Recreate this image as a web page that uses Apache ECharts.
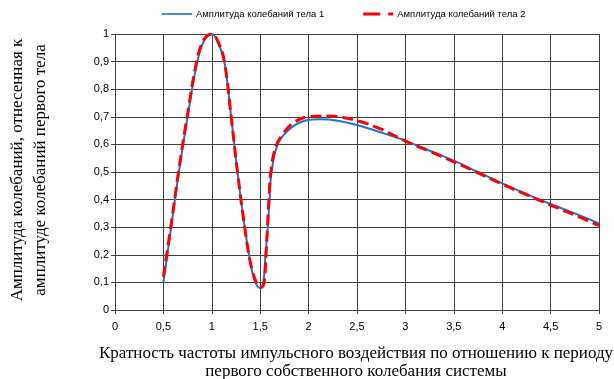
<!DOCTYPE html>
<html>
<head>
<meta charset="utf-8">
<script src="https://cdn.jsdelivr.net/npm/echarts@6/dist/echarts.min.js"></script>
<style>
html,body{margin:0;padding:0;background:#fff;}
#chart{width:614px;height:379px;}
</style>
</head>
<body>
<div id="chart"></div>
<script>
// Series names
const seriesNames = ['Амплитуда колебаний тела 1', 'Амплитуда колебаний тела 2'];
// Axis titles
const yTitle = 'Амплитуда колебаний, отнесенная к\nамплитуде колебаний первого тела';
const xTitle = 'Кратность частоты импульсного воздействия по отношению к периоду\nпервого собственного колебания системы';

// Series 1 (blue): [x, y]
const body1 = [
  [0.5,0.10],[0.58,0.30],[0.66,0.50],[0.75,0.70],[0.85,0.90],[0.92,0.975],[1.0,1.0],
  [1.07,0.965],[1.13,0.90],[1.20,0.70],[1.265,0.50],[1.34,0.30],[1.40,0.17],[1.45,0.10],
  [1.50,0.08],[1.53,0.095],[1.555,0.20],[1.578,0.30],[1.597,0.40],[1.617,0.50],[1.68,0.60],
  [1.77,0.645],[1.86,0.67],[1.96,0.686],[2.12,0.691],[2.3,0.686],[2.5,0.67],[2.75,0.643],
  [3.0,0.613],[3.25,0.577],[3.5,0.541],[3.75,0.50],[4.0,0.459],[4.25,0.42],[4.5,0.384],
  [4.75,0.35],[5.0,0.314]
];
// Series 2 (red dashed): [x, y]
const body2 = [
  [0.5,0.12],[0.58,0.31],[0.66,0.51],[0.75,0.71],[0.85,0.91],[0.92,0.98],[1.0,1.0],
  [1.07,0.968],[1.13,0.90],[1.20,0.70],[1.265,0.50],[1.34,0.30],[1.40,0.17],[1.46,0.10],
  [1.51,0.082],[1.54,0.10],[1.56,0.20],[1.575,0.30],[1.59,0.40],[1.61,0.50],[1.66,0.59],
  [1.74,0.64],[1.85,0.68],[2.0,0.70],[2.2,0.703],[2.5,0.686],[2.75,0.655],[3.0,0.612],
  [3.25,0.575],[3.5,0.537],[3.75,0.497],[4.0,0.456],[4.25,0.418],[4.5,0.38],[4.75,0.344],
  [5.0,0.306]
];

const fmt = v => String(+v.toFixed(2)).replace('.', ',');
const gridColor = '#404040';

const chart = echarts.init(document.getElementById('chart'), null, {renderer:'canvas'});
chart.setOption({
  animation: false,
  backgroundColor: '#fff',
  grid: {left:115, right:15, top:34, bottom:69, containLabel:false},
  legend: {
    top: 9, left: 162, padding: 0,
    itemWidth: 30, itemHeight: 10, itemGap: 39,
    textStyle: {fontFamily:'Liberation Sans, Arial, sans-serif', fontSize:9.5, color:'#000', padding:[0,0,0,-1]},
    data: [
      {name: seriesNames[0], icon: 'path://M0,4.2L30,4.2L30,5.8L0,5.8Z'},
      {name: seriesNames[1], icon: 'path://M0,3.5L17,3.5L17,6.5L0,6.5ZM25,3.5L30,3.5L30,6.5L25,6.5Z'}
    ]
  },
  xAxis: {
    type: 'value', min: 0, max: 5, interval: 0.5,
    axisLine: {show:true, lineStyle:{color:gridColor, width:1}},
    axisTick: {show:true, length:4, lineStyle:{color:gridColor}},
    axisLabel: {formatter: fmt, fontFamily:'Liberation Sans, Arial, sans-serif', fontSize:11, color:'#000', margin:11},
    splitLine: {show:true, lineStyle:{color:gridColor, width:1}}
  },
  yAxis: {
    type: 'value', min: 0, max: 1, interval: 0.1,
    axisLine: {show:true, lineStyle:{color:gridColor, width:1}},
    axisTick: {show:true, length:4, lineStyle:{color:gridColor}},
    axisLabel: {formatter: fmt, fontFamily:'Liberation Sans, Arial, sans-serif', fontSize:11, color:'#000', margin:6},
    splitLine: {show:true, lineStyle:{color:gridColor, width:1}}
  },
  graphic: [
    {type:'text', x:29, y:170, rotation:Math.PI/2,
     style:{text:yTitle, font:'17px "Liberation Serif", "Times New Roman", serif', fill:'#000',
            textAlign:'center', textVerticalAlign:'middle', lineHeight:23}},
    {type:'text', x:356, y:363,
     style:{text:xTitle, font:'17px "Liberation Serif", "Times New Roman", serif', fill:'#000',
            textAlign:'center', textVerticalAlign:'middle', lineHeight:18}}
  ],
  series: [
    {name: seriesNames[0], type:'line', data: body1, smooth:0.4, showSymbol:false, z:2,
     lineStyle:{color:'#1874d6', width:2}, itemStyle:{color:'#1874d6'}},
    {name: seriesNames[1], type:'line', data: body2, smooth:0.4, showSymbol:false, z:3,
     lineStyle:{color:'#ff0000', width:3, type:[11,5]}, itemStyle:{color:'#ff0000'}}
  ]
});
</script>
</body>
</html>
